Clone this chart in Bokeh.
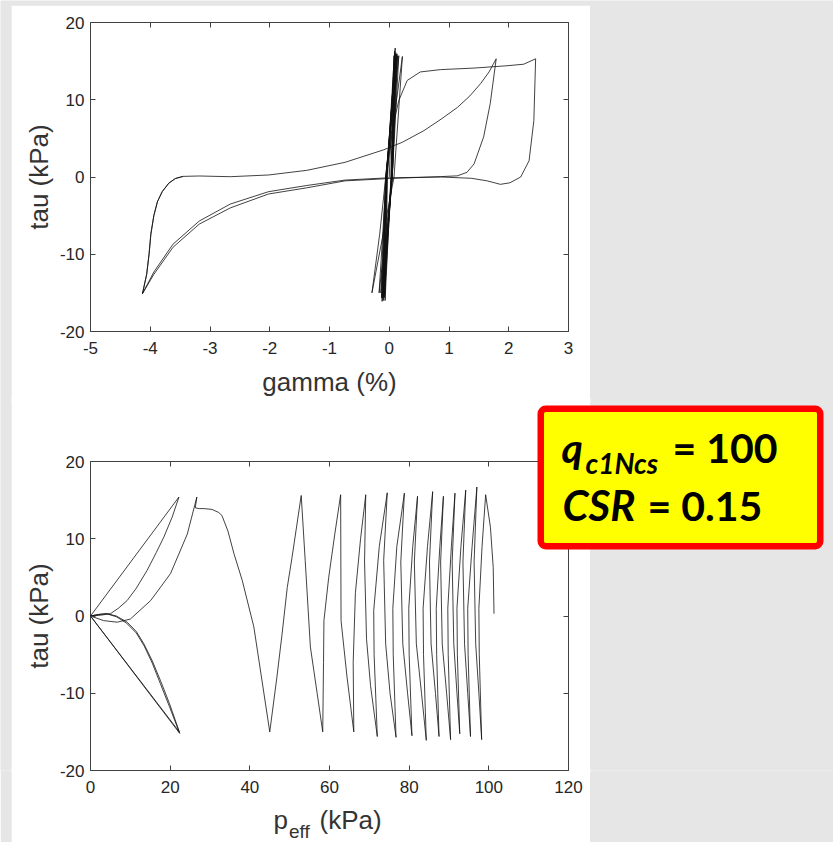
from bokeh.plotting import figure
from bokeh.models import LinearAxis, FixedTicker, Range1d, BoxAnnotation, Label, GridBox
from bokeh.embed import file_html
from bokeh.resources import INLINE

# ---------------- data ----------------
# top panel: shear strain gamma (%) vs shear stress tau (kPa)
gamma_cyclic = [0.00, 0.08, 0.03, -0.07, -0.03, 0.10, 0.04, -0.08, -0.04, 0.09, 0.03, -0.08,
                -0.04, 0.10, 0.04, -0.10, -0.05, 0.10, 0.04, -0.10, -0.05, 0.11, 0.04, -0.12,
                -0.05, 0.11, 0.05, -0.11, -0.05, 0.12, 0.05, -0.12, -0.05, 0.13, 0.05, -0.13,
                -0.06, 0.14, 0.05, -0.14, -0.06, 0.16, 0.05, -0.17, -0.05, 0.22, 0.08, -0.29]
tau_cyclic_g = [0.0, 15.7, 0.0, -16.0, 0.0, 16.7, 0.0, -15.6, 0.0, 16.3, 0.0, -15.25,
                0.0, 15.9, 0.0, -16.0, 0.0, 15.5, 0.0, -15.6, 0.0, 16.1, 0.0, -16.1,
                0.0, 15.5, 0.0, -15.5, 0.0, 15.9, 0.0, -15.7, 0.0, 15.95, 0.0, -15.6,
                0.0, 15.7, 0.0, -15.0, 0.0, 15.7, 0.0, -15.0, 0.0, 15.6, 0.0, -15.0]

gamma_flow = [-0.29, -0.16, -0.06, 0.03, 0.13, 0.16, 0.30, 0.52, 0.86, 1.42, 1.97, 2.25, 2.45,
              2.42, 2.34, 2.20, 2.02, 1.86, 1.64, 1.38, 0.87, 0.00, -0.74, -1.38, -2.02, -2.66,
              -3.18, -3.62, -3.94, -4.13,
              -4.06, -4.02, -3.99, -3.94, -3.88, -3.80, -3.69, -3.58, -3.45, -3.18, -2.66, -2.02,
              -1.38, -0.74, -0.10, 0.22, 0.58, 0.87, 1.14, 1.35, 1.53, 1.67, 1.79,
              1.69, 1.58, 1.42, 1.30, 1.14, 0.86, 0.00, -0.74, -1.38, -2.02, -2.66, -3.18, -3.62,
              -3.94, -4.13,
              -4.06, -4.02, -3.99, -3.94, -3.88, -3.80, -3.69, -3.58, -3.45]
tau_flow_g = [-15.0, -7.4, -0.1, 5.5, 8.9, 9.9, 12.5, 13.6, 13.9, 14.1, 14.4, 14.6, 15.3,
              7.3, 2.1, 0.0, -0.75, -0.95, -0.5, -0.17, 0.0, -0.1, -0.4, -1.1, -1.9, -3.5,
              -5.7, -8.7, -12.3, -15.1,
              -12.6, -10.0, -7.4, -5.0, -3.2, -1.9, -0.8, -0.2, 0.08, 0.13, 0.04, 0.26,
              0.86, 1.9, 3.5, 4.5, 6.0, 7.5, 9.0, 10.5, 12.1, 13.6, 15.3,
              9.5, 5.2, 1.7, 0.6, 0.15, 0.05, -0.2, -0.5, -1.4, -2.2, -4.0, -6.1, -9.1,
              -12.6, -15.1,
              -12.6, -10.0, -7.4, -5.0, -3.2, -1.9, -0.8, -0.2, 0.08]

# bottom panel: effective mean stress p_eff (kPa) vs tau (kPa)
p_eff_cyclic = [45.0, 46.8, 48.1, 49.4, 50.6, 52.9, 53.9, 55.2, 56.9,
                58.3, 58.5, 58.6, 59.8, 61.3, 62.8, 62.85, 62.9, 64.4,
                66.1, 65.95, 66.5, 67.8, 69.1, 68.8, 69.3, 70.3,
                72.0, 71.2, 71.1, 72.5, 74.5, 73.6, 74.1, 75.2,
                76.7, 76.0, 75.9, 76.9, 78.8, 77.9, 78.4, 79.6,
                80.7, 80.0, 79.9, 80.9, 82.1, 81.3, 81.8, 83.1,
                84.3, 83.6, 83.5, 84.6, 85.9, 85.1, 85.5, 86.6,
                87.5, 86.9, 86.8, 87.7, 88.6, 87.9, 88.3, 89.4,
                90.4, 89.8, 89.7, 90.6, 91.5, 90.8, 91.2, 92.0,
                92.7, 92.1, 92.0, 93.0, 94.2, 93.5, 93.9, 94.7,
                95.4, 94.8, 94.7, 95.8, 97.0, 96.3, 96.7, 97.5,
                98.2, 97.6, 97.5, 98.3, 99.2, 100.4, 101.1, 101.3]
tau_cyclic_p = [-15.0, -7.9, -2.3, 3.7, 7.6, 15.6, 7.2, -4.0, -10.0,
                -15.0, -6.0, -0.6, 5.0, 10.5, 15.7, 7.0, -0.6, -7.9,
                -15.0, -6.0, 3.0, 10.0, 15.7, 7.0, -3.0, -9.0,
                -15.6, -5.0, 0.7, 9.0, 15.95, 7.2, -3.6, -10.0,
                -15.7, -5.0, 1.0, 9.0, 15.9, 7.0, -3.6, -10.0,
                -15.5, -5.0, 1.0, 9.0, 15.5, 7.0, -3.6, -10.0,
                -16.1, -5.0, 1.0, 9.0, 16.1, 7.0, -3.6, -10.0,
                -15.6, -5.0, 1.0, 9.0, 15.5, 7.0, -3.6, -10.0,
                -16.0, -5.0, 1.0, 9.0, 15.9, 7.0, -3.6, -10.0,
                -15.25, -5.0, 1.0, 9.0, 16.3, 7.0, -3.6, -10.0,
                -15.6, -5.0, 1.0, 9.0, 16.7, 7.0, -3.6, -10.0,
                -16.0, -5.0, 1.0, 9.0, 15.7, 11.5, 6.3, 0.3]

p_eff_flow = [45.0, 41.0, 38.1, 36.0, 34.5, 33.0, 32.2, 30.5, 28.5, 27.3, 26.3, 26.7,
              24.3, 20.1, 15.1, 10.0, 6.7, 3.3, 0.0,
              2.0, 4.2, 6.5, 9.2, 11.5, 13.4, 15.5, 17.6, 19.8, 22.3,
              0.0,
              2.5, 5.0, 7.0, 9.2, 11.5, 14.2, 16.5, 18.4, 20.5, 22.2,
              0.0,
              2.0, 4.0, 6.5, 9.0, 11.5, 13.5, 15.5, 17.5, 19.8, 22.4,
              0.0]
tau_flow_p = [-15.0, -1.4, 4.6, 8.1, 11.0, 13.0, 13.4, 13.8, 13.9, 13.9, 14.0, 15.4,
              10.6, 5.5, 2.0, -0.4, -0.8, -0.6, 0.0,
              0.2, 0.3, 0.0, -0.8, -2.0, -3.6, -5.8, -8.4, -11.3, -15.0,
              0.0,
              0.1, 0.3, 1.0, 2.0, 3.6, 5.9, 8.2, 10.2, 12.8, 15.4,
              0.0,
              0.2, 0.3, -0.1, -0.9, -2.2, -3.9, -6.1, -8.7, -11.7, -15.2,
              0.0]

gamma_ticks = [-5, -4, -3, -2, -1, 0, 1, 2, 3]
gamma_tick_labels = ["-5", "-4", "-3", "-2", "-1", "0", "1", "2", "3"]
p_ticks = [0, 20, 40, 60, 80, 100, 120]
p_tick_labels = ["0", "20", "40", "60", "80", "100", "120"]
tau_ticks = [-20, -10, 0, 10, 20]
tau_tick_labels = ["-20", "-10", "0", "10", "20"]

# ---------------- style / layout ----------------
FONT = "Liberation Sans"
LABEL_COLOR = "#262626"
AXL_COLOR = "#333333"
AX_COLOR = "#404040"
GRAY = "#e6e6e6"
LINE = "#111111"
PW = 579                    # white panel width (page x 11..590)
FL, FR = 79, 22             # frame borders inside the panel figures
FH = 309                    # frame height
PAGE_W, PAGE_H = 833, 842
DESC = 0.212                # font descent (em) used to place text baselines


def axis(ticks, labels, show, label_text=None, standoff=7, label_standoff=4):
    ax = LinearAxis(ticker=FixedTicker(ticks=ticks),
                    major_label_overrides={t: (s if show else "") for t, s in zip(ticks, labels)},
                    axis_line_color=None,
                    major_tick_line_color=AX_COLOR, major_tick_line_width=1,
                    major_tick_in=5, major_tick_out=0,
                    minor_tick_line_color=None,
                    major_label_text_font=FONT,
                    major_label_text_color=LABEL_COLOR,
                    major_label_text_font_size="17px" if show else "1px",
                    major_label_standoff=standoff if show else 0)
    if label_text:
        ax.axis_label = label_text
        ax.axis_label_text_font = FONT
        ax.axis_label_text_font_size = "26px"
        ax.axis_label_text_font_style = "normal"
        ax.axis_label_text_color = AXL_COLOR
        ax.axis_label_standoff = label_standoff
    return ax


def chart(height, top, xr, xt, xtl, xlabel):
    p = figure(width=PW, height=height, x_range=Range1d(*xr), y_range=Range1d(-20, 20),
               x_axis_type=None, y_axis_type=None,
               output_backend="svg", toolbar_location=None,
               min_border_left=FL, min_border_right=FR,
               min_border_top=top, min_border_bottom=height - top - FH)
    p.title.visible = False
    p.background_fill_color = "white"
    p.border_fill_color = "white"
    p.outline_line_color = AX_COLOR
    p.outline_line_width = 1
    p.outline_line_alpha = 1
    p.add_layout(axis(xt, xtl, True, xlabel, standoff=10, label_standoff=10), "below")
    p.add_layout(axis(tau_ticks, tau_tick_labels, True, "tau (kPa)", standoff=6,
                      label_standoff=3), "left")
    p.add_layout(axis(xt, xtl, False), "above")
    p.add_layout(axis(tau_ticks, tau_tick_labels, False), "right")
    return p


def blank(w, h, fill=None):
    f = figure(width=w, height=h, x_range=Range1d(0, w), y_range=Range1d(0, h),
               x_axis_type=None, y_axis_type=None, output_backend="svg",
               toolbar_location=None, min_border=0)
    f.title.visible = False
    f.outline_line_color = None
    if fill is None:
        f.background_fill_alpha = 0
        f.border_fill_alpha = 0
    else:
        f.background_fill_color = fill
        f.border_fill_color = fill
    return f


# page background
bg = blank(PAGE_W, PAGE_H, GRAY)

# top chart (page y 5..400)
p1 = chart(395, 17, (-5, 3), gamma_ticks, gamma_tick_labels, "gamma (%)")
p1.line(gamma_cyclic, tau_cyclic_g, line_color=LINE, line_width=0.8)
p1.line(gamma_flow, tau_flow_g, line_color=LINE, line_width=0.8)

# bottom chart (page y 400..842)
p2 = chart(442, 61, (0, 120), p_ticks, p_tick_labels, None)
p2.line(p_eff_cyclic, tau_cyclic_p, line_color=LINE, line_width=0.8)
p2.line(p_eff_flow, tau_flow_p, line_color=LINE, line_width=0.8)

# transparent overlay in page pixels (x right, y up from page bottom)
ov = blank(PAGE_W, PAGE_H)


def white(x0, x1, y0, y1):
    ov.add_layout(BoxAnnotation(left=x0, right=x1, top=PAGE_H - y0, bottom=PAGE_H - y1,
                                fill_color="white", fill_alpha=1, line_alpha=0))


# hide the hairline seams between the white panel pieces (clear of tick labels)
white(11, 590, 398, 402)
white(11, 57, 768.5, 772)
white(86, 89.5, 768.5, 772)
white(568.5, 590, 768.5, 772)


def lab(x, baseline, text, size, font=FONT, style="normal", color=AXL_COLOR):
    # text_baseline "bottom" puts the descent line at y: shift by the descent
    ov.add_layout(Label(x=x, y=PAGE_H - (baseline + DESC * size), text=text,
                        text_font=font, text_font_size=f"{size}px",
                        text_font_style=style, text_color=color,
                        text_align="left", text_baseline="bottom"))


# x-axis title of the bottom chart, with subscript
lab(273, 829, "p", 26)
lab(288.5, 837, "eff", 19)
lab(319, 829, "(kPa)", 26)

# highlighted box
BW = 6.5
ov.add_layout(BoxAnnotation(left=537 + BW / 2, right=823 - BW / 2,
                            top=PAGE_H - (405 + BW / 2), bottom=PAGE_H - (549 - BW / 2),
                            fill_color="#ffff00", fill_alpha=1,
                            line_color="#ff0000", line_width=BW, line_alpha=1,
                            border_radius=5))
BF = "Lato"
lab(561, 463, "q", 41, BF, "bold italic", "black")
lab(585, 474, "c1Ncs", 28, BF, "bold italic", "black")
lab(672, 463, "= 100", 41, BF, "bold", "black")
lab(562, 521, "CSR", 42, BF, "bold italic", "black")
lab(647, 521, "= 0.15", 41, BF, "bold", "black")

inner = GridBox(
    children=[(bg, 0, 0, 3, 3), (p1, 1, 1), (p2, 2, 1)],
    rows=["5px", "395px", "442px"],
    cols=["11px", "579px", "243px"],
    spacing=0)
page = GridBox(children=[(inner, 0, 0), (ov, 0, 0)],
               rows=["842px"], cols=["833px"], spacing=0)

open("out.html", "w").write(file_html(page, INLINE))
